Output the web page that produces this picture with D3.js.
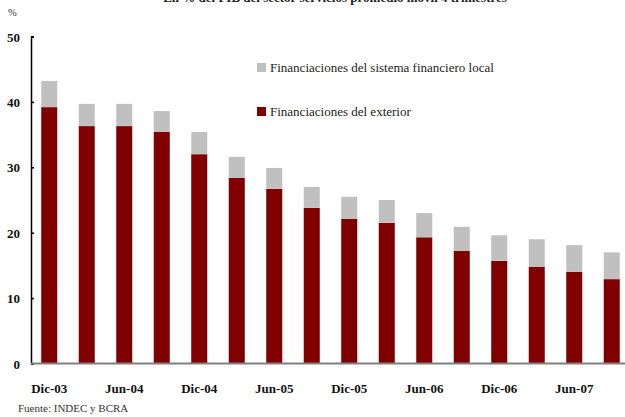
<!DOCTYPE html>
<html><head><meta charset="utf-8">
<script src="https://cdn.jsdelivr.net/npm/d3@7"></script>
<style>body{margin:0;background:#fff}svg{display:block}</style>
</head><body>
<script>
const categories = ["Dic-03","Mar-04","Jun-04","Sep-04","Dic-04","Mar-05","Jun-05","Sep-05","Dic-05","Mar-06","Jun-06","Sep-06","Dic-06","Mar-07","Jun-07","Sep-07"];
const exterior = [39.2,36.3,36.3,35.4,32.0,28.4,26.7,23.8,22.1,21.5,19.3,17.2,15.7,14.8,14.0,12.9];
const local    = [4.0,3.4,3.4,3.2,3.4,3.2,3.2,3.2,3.4,3.5,3.7,3.7,3.9,4.2,4.1,4.1];
const yTicks = [0,10,20,30,40,50];
const xLabels = ["Dic-03","Jun-04","Dic-04","Jun-05","Dic-05","Jun-06","Dic-06","Jun-07"];
const seriesNames = ["Financiaciones del sistema financiero local","Financiaciones del exterior"];
const colors = {local:"#c0c0c0", exterior:"#800000"};
const titleText = "En % del PIB del sector servicios promedio móvil 4 trimestres";

const W=625,H=417;
const svg=d3.select("body").append("svg").attr("width",W).attr("height",H);
const serif="'Liberation Serif','Times New Roman',serif";

const x=d3.scaleBand().domain(categories).range([30.5,630.5]).paddingInner(0.573).paddingOuter(0.2865);
const y=d3.scaleLinear().domain([0,50]).range([363.5,36.5]);

// title (clipped at top)
svg.append("text").attr("x",335).attr("y",2).attr("text-anchor","middle")
  .attr("font-family",serif).attr("font-weight","bold").attr("font-size",13).attr("fill","#222").text(titleText);

svg.append("text").attr("x",8).attr("y",16).attr("font-family",serif).attr("font-size",10.5).attr("fill","#333").text("%");

const data=categories.map((c,i)=>({c,ext:exterior[i],loc:local[i]}));
const g=svg.append("g");
g.selectAll("rect.ext").data(data).enter().append("rect")
  .attr("x",d=>x(d.c)).attr("width",x.bandwidth())
  .attr("y",d=>y(d.ext)).attr("height",d=>y(0)-y(d.ext)).attr("fill",colors.exterior);
g.selectAll("rect.loc").data(data).enter().append("rect")
  .attr("x",d=>x(d.c)).attr("width",x.bandwidth())
  .attr("y",d=>y(d.ext+d.loc)).attr("height",d=>y(d.ext)-y(d.ext+d.loc)).attr("fill",colors.local);

// y axis
const yAxis=d3.axisRight(y).tickValues(yTicks).tickSize(3).tickFormat(d3.format("d"));
const ya=svg.append("g").attr("transform","translate(31,0)").call(yAxis);
ya.select(".domain").attr("stroke","#000").attr("stroke-width",1.5);
ya.selectAll(".tick line").attr("stroke","#000").attr("stroke-width",1.5);
ya.selectAll(".tick text").attr("x",-11).attr("text-anchor","end").attr("dy","0.35em")
  .attr("font-family",serif).attr("font-weight","bold").attr("font-size",13).attr("fill","#111");

// x axis line
svg.append("line").attr("x1",31).attr("x2",W).attr("y1",y(0)).attr("y2",y(0)).attr("stroke","#808080").attr("stroke-width",2);
const xa=svg.append("g").attr("transform",`translate(0,${y(0)})`)
  .call(d3.axisBottom(x).tickValues(xLabels).tickSize(0));
xa.select(".domain").remove();
xa.selectAll(".tick text").attr("y",20).attr("dy","0.71em")
  .attr("font-family",serif).attr("font-weight","bold").attr("font-size",13).attr("fill","#111");

// legend
const leg=[{n:seriesNames[0],c:colors.local,y:63},{n:seriesNames[1],c:colors.exterior,y:107}];
leg.forEach(l=>{
  svg.append("rect").attr("x",257).attr("y",l.y).attr("width",9).attr("height",9).attr("fill",l.c);
  svg.append("text").attr("x",270).attr("y",l.y+8.5).attr("font-family",serif).attr("font-size",13).attr("fill","#222").text(l.n);
});

svg.append("text").attr("x",18).attr("y",412).attr("font-family",serif).attr("font-size",11).attr("fill","#333").text("Fuente: INDEC y BCRA");
</script>
</body></html>
